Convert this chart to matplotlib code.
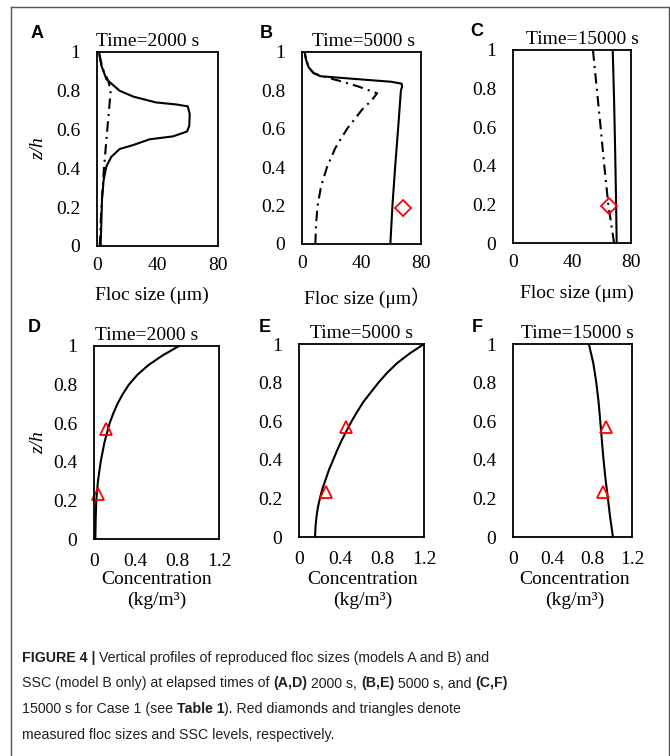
import matplotlib
matplotlib.use('Agg')
import matplotlib.pyplot as plt
from matplotlib.lines import Line2D

# ---- floc size profiles (um) vs z/h ----
z_a_solid = [0, 0.1, 0.24, 0.34, 0.41, 0.46, 0.50, 0.52, 0.55, 0.565, 0.59, 0.62, 0.68, 0.72, 0.73, 0.74, 0.77, 0.80, 0.86, 0.93, 1.0]
a_solid = [2.4, 2.8, 3.3, 4.4, 6.2, 9.5, 15, 23.8, 34.8, 50.2, 59.5, 61, 61.3, 60, 52, 39, 24, 15, 6.2, 2.9, 1.3]
z_a_dashdot = [0, 0.2, 0.4, 0.6, 0.75, 0.8, 0.85, 0.9, 0.95, 1.0]
a_dashdot = [1.8, 2.9, 4.6, 6.8, 8.5, 9.0, 7.5, 4.5, 2.6, 1.3]

z_b_solid = [0, 0.2, 0.4, 0.6, 0.8, 0.82, 0.835, 0.845, 0.86, 0.874, 0.89, 0.92, 0.96, 1.0]
b_solid = [59.4, 60.8, 62.6, 64.6, 66.5, 67.3, 67, 60, 35, 12.3, 7.8, 4.5, 2.7, 1.8]
z_b_dashdot = [0, 0.1, 0.2, 0.3, 0.4, 0.5, 0.6, 0.7, 0.75, 0.785, 0.82, 0.85, 0.874, 0.89, 0.92, 0.96, 1.0]
b_dashdot = [9.0, 9.4, 10.5, 12.8, 16.8, 22.4, 30.3, 40.4, 47, 50.5, 38, 25, 13.5, 7.8, 4.5, 2.7, 1.8]

z_c_solid = [0, 0.25, 0.5, 0.75, 1.0]
c_solid = [70.3, 69.8, 69.2, 68.5, 67.6]
z_c_dashdot = [0, 0.2, 0.4, 0.6, 0.8, 1.0]
c_dashdot = [68.5, 64.6, 61.9, 59.4, 56.8, 54.2]

# measured floc sizes (diamonds)
b_meas_size, b_meas_z = [68], [0.19]
c_meas_size, c_meas_z = [65.2], [0.193]

# ---- SSC profiles (kg/m3) ----
z_d = [0, 0.1, 0.2, 0.3, 0.4, 0.5, 0.6, 0.65, 0.7, 0.75, 0.8, 0.85, 0.9, 0.95, 1.0]
d_ssc = [0.013, 0.016, 0.022, 0.038, 0.064, 0.10, 0.150, 0.185, 0.225, 0.275, 0.335, 0.415, 0.52, 0.655, 0.816]
z_e = [0, 0.05, 0.1, 0.15, 0.2, 0.25, 0.3, 0.35, 0.4, 0.45, 0.5, 0.55, 0.6, 0.65, 0.7, 0.75, 0.8, 0.85, 0.9, 0.95, 1.0]
e_ssc = [0.154, 0.158, 0.167, 0.18, 0.20, 0.225, 0.257, 0.289, 0.328, 0.367, 0.409, 0.457, 0.505, 0.56, 0.618, 0.69, 0.763, 0.845, 0.94, 1.06, 1.2]
z_f = [0, 0.1, 0.2, 0.3, 0.4, 0.5, 0.6, 0.7, 0.8, 0.9, 1.0]
f_ssc = [1.008, 0.98, 0.957, 0.933, 0.913, 0.896, 0.88, 0.863, 0.84, 0.81, 0.765]

# measured SSC (triangles)
meas_z = [0.572, 0.235]
d_meas = [0.118, 0.042]
e_meas = [0.45, 0.257]
f_meas = [0.937, 0.907]

yticks = [0, 0.2, 0.4, 0.6, 0.8, 1]
ytick_labels = ['0', '0.2', '0.4', '0.6', '0.8', '1']
size_ticks = [0, 40, 80]
conc_ticks = [0, 0.4, 0.8, 1.2]
conc_labels = ['0', '0.4', '0.8', '1.2']

W, H = 670, 756
SERIF = 'Liberation Serif'
FS = 14
DASHDOT = (0, (5, 2.5, 1, 2.5))

fig = plt.figure(figsize=(W / 100, H / 100), dpi=100)


def px_axes(l, t, r, b):
    return fig.add_axes([l / W, 1 - b / H, (r - l) / W, (b - t) / H])


def style(ax, xlim, xticks, xlabels, xpad):
    ax.set_xlim(*xlim)
    ax.set_ylim(0, 1)
    ax.set_xticks(xticks)
    ax.set_xticklabels(xlabels)
    ax.set_yticks(yticks)
    ax.set_yticklabels(ytick_labels)
    ax.tick_params(axis='both', length=0, labelsize=FS)
    ax.tick_params(axis='y', pad=12)
    ax.tick_params(axis='x', pad=xpad)
    for lab in ax.get_xticklabels() + ax.get_yticklabels():
        lab.set_fontfamily(SERIF)
    for sp in ax.spines.values():
        sp.set_linewidth(1.3)


def title(ax, text, xpos, letter, lx, ly):
    ax.set_title(text, x=xpos, pad=4, fontsize=FS, fontfamily=SERIF)
    fig.text(lx / W, 1 - ly / H, letter, fontsize=13, fontweight='bold',
             fontfamily='Liberation Sans', ha='center', va='center')


def xlabel(text, cx, cy, family=SERIF):
    fig.text(cx / W, 1 - cy / H, text, ha='center', va='center', fontsize=FS,
             fontfamily=family, linespacing=1.3)


def markers(ax, xs, zs, marker, size):
    ax.plot(xs, zs, ls='none', marker=marker, ms=size, mfc='none', mec='red',
            mew=1.3, clip_on=False)


# top row: floc size
ax_a = px_axes(97, 52, 218, 246)
ax_a.plot(a_solid, z_a_solid, color='black', lw=1.5)
ax_a.plot(a_dashdot, z_a_dashdot, color='black', lw=1.5, ls=DASHDOT)
style(ax_a, (0, 80), size_ticks, ['0', '40', '80'], 8)
title(ax_a, 'Time=2000 s', 0.42, 'A', 37, 33)
xlabel('Floc size (\u03bcm)', 152, 295)

ax_b = px_axes(302, 52, 421, 244)
ax_b.plot(b_solid, z_b_solid, color='black', lw=1.5)
ax_b.plot(b_dashdot, z_b_dashdot, color='black', lw=1.5, ls=DASHDOT)
markers(ax_b, b_meas_size, b_meas_z, 'D', 8)
style(ax_b, (0, 80), size_ticks, ['0', '40', '80'], 8)
title(ax_b, 'Time=5000 s', 0.52, 'B', 266, 33)
xlabel('Floc size (\u03bcm\uff09', 367, 298, family=[SERIF, 'Noto Sans CJK SC'])

ax_c = px_axes(513, 50, 631, 243)
ax_c.plot(c_solid, z_c_solid, color='black', lw=1.5)
ax_c.plot(c_dashdot, z_c_dashdot, color='black', lw=1.5, ls=DASHDOT)
markers(ax_c, c_meas_size, c_meas_z, 'D', 8)
style(ax_c, (0, 80), size_ticks, ['0', '40', '80'], 8)
title(ax_c, 'Time=15000 s', 0.585, 'C', 477, 32)
xlabel('Floc size (\u03bcm)', 577, 293)

# bottom row: SSC
ax_d = px_axes(94, 346, 219, 539)
ax_d.plot(d_ssc, z_d, color='black', lw=1.5)
markers(ax_d, d_meas, meas_z, '^', 9)
style(ax_d, (0, 1.2), conc_ticks, conc_labels, 10)
title(ax_d, 'Time=2000 s', 0.424, 'D', 34, 327)
xlabel('Concentration\n(kg/m\u00b3)', 157, 590)

ax_e = px_axes(299, 344, 424, 537)
ax_e.plot(e_ssc, z_e, color='black', lw=1.5)
markers(ax_e, e_meas, meas_z, '^', 9)
style(ax_e, (0, 1.2), conc_ticks, conc_labels, 10)
title(ax_e, 'Time=5000 s', 0.50, 'E', 265, 327)
xlabel('Concentration\n(kg/m\u00b3)', 363, 590)

ax_f = px_axes(513, 344, 632, 537)
ax_f.plot(f_ssc, z_f, color='black', lw=1.5)
markers(ax_f, f_meas, meas_z, '^', 9)
style(ax_f, (0, 1.2), conc_ticks, conc_labels, 10)
title(ax_f, 'Time=15000 s', 0.54, 'F', 477, 327)
xlabel('Concentration\n(kg/m\u00b3)', 575, 590)

for cy in (149, 443):
    fig.text(39 / W, 1 - cy / H, 'z/h', rotation=90, ha='center', va='center',
             fontsize=FS, fontstyle='italic', fontfamily=SERIF)

# frame around the figure
for xs, ys in (([11, 669], [7, 7]), ([11, 11], [7, 756]), ([669, 669], [7, 756])):
    fig.add_artist(Line2D([x / W for x in xs], [1 - y / H for y in ys],
                          color='#555555', lw=1.0))

# caption with bold runs
caption = [
    [('FIGURE 4 | ', True), ('Vertical profiles of reproduced floc sizes (models A and B) and', False)],
    [('SSC (model B only) at elapsed times of ', False), ('(A,D)', True), (' 2000 s, ', False),
     ('(B,E)', True), (' 5000 s, and ', False), ('(C,F)', True)],
    [('15000 s for Case 1 (see ', False), ('Table 1', True),
     ('). Red diamonds and triangles denote', False)],
    [('measured floc sizes and SSC levels, respectively.', False)],
]
renderer = fig.canvas.get_renderer()
for i, parts in enumerate(caption):
    x = 22 / W
    y = 1 - (658 + 25.5 * i) / H
    for s, bold in parts:
        t = fig.text(x, y, s, fontsize=10.2, fontfamily='Liberation Sans', color='#231f20',
                     fontweight='bold' if bold else 'normal', va='center')
        x += t.get_window_extent(renderer).width / fig.bbox.width

fig.savefig('out.png', dpi=100)
